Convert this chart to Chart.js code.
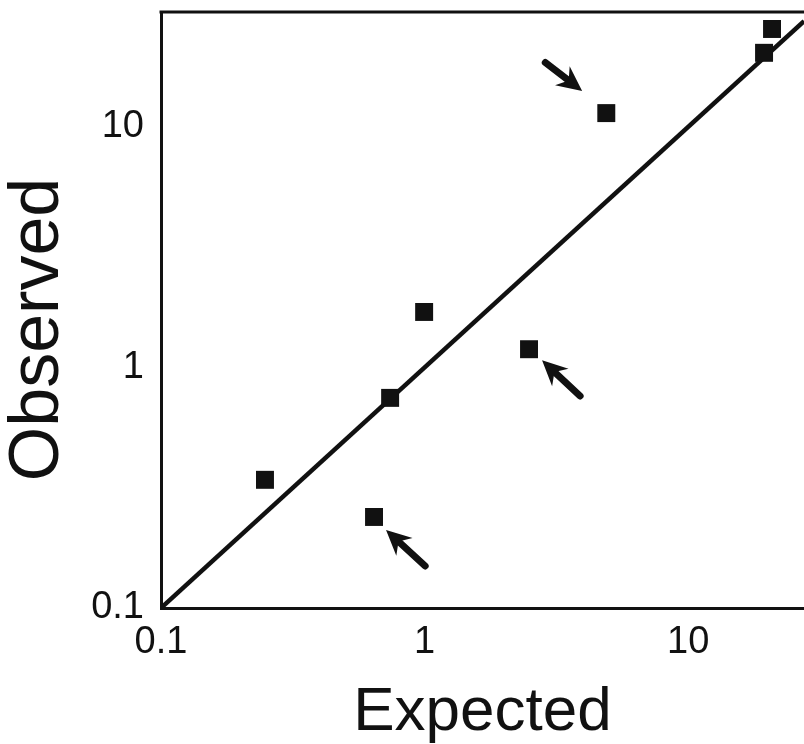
<!DOCTYPE html>
<html>
<head>
<meta charset="utf-8">
<script src="https://cdn.jsdelivr.net/npm/chart.js@4.4.1/dist/chart.umd.min.js"></script>
<style>
  html, body { margin: 0; padding: 0; background: #fff; }
  #wrap { width: 804px; height: 744px; }
</style>
</head>
<body>
<div id="wrap"><canvas id="c" width="804" height="744"></canvas></div>
<script>
// ---- data ----
const expectedVals = [0.248, 0.643, 0.740, 0.996, 2.49, 4.89, 19.4, 20.8];
const observedVals = [0.341, 0.239, 0.747, 1.70, 1.19, 11.4, 20.3, 25.5];
const xTicks = [0.1, 1, 10];
const yTicks = [0.1, 1, 10];
const xTickLabels = ['0.1', '1', '10'];
const yTickLabels = ['0.1', '1', '10'];
const xRange = [0.1, 27.5];
const yRange = [0.1, 30];
const identityLine = [0.1, 27.5];
// arrows in data units
const arrowTailX = [2.87, 3.89, 1.005];
const arrowTailY = [18.5, 0.761, 0.1495];
const arrowTipX = [3.96, 2.79, 0.714];
const arrowTipY = [14.1, 1.07, 0.211];

const INK = '#111';
const FONT = "'Liberation Sans', Arial, Helvetica, sans-serif";

const frameAndArrows = {
  id: 'frameAndArrows',
  afterDatasetsDraw(chart) {
    const { ctx, chartArea, scales } = chart;
    ctx.save();
    ctx.strokeStyle = INK;
    ctx.lineWidth = 3;
    ctx.beginPath();
    ctx.moveTo(chartArea.left - 1.5, chartArea.top);
    ctx.lineTo(chartArea.right, chartArea.top);
    ctx.stroke();
    ctx.fillStyle = INK;
    ctx.lineCap = 'round';
    for (let i = 0; i < arrowTipX.length; i++) {
      const x0 = scales.x.getPixelForValue(arrowTailX[i]);
      const y0 = scales.y.getPixelForValue(arrowTailY[i]);
      const x1 = scales.x.getPixelForValue(arrowTipX[i]);
      const y1 = scales.y.getPixelForValue(arrowTipY[i]);
      const ang = Math.atan2(y1 - y0, x1 - x0);
      const headLen = 25, headW = 12, notch = 17;
      const ux = Math.cos(ang), uy = Math.sin(ang);
      const px = -uy, py = ux;
      const bx = x1 - ux * headLen, by = y1 - uy * headLen;
      const nx = x1 - ux * notch, ny = y1 - uy * notch;
      ctx.lineWidth = 7;
      ctx.beginPath();
      ctx.moveTo(x0, y0);
      ctx.lineTo(nx, ny);
      ctx.stroke();
      ctx.beginPath();
      ctx.moveTo(x1, y1);
      ctx.lineTo(bx + px * headW, by + py * headW);
      ctx.lineTo(nx, ny);
      ctx.lineTo(bx - px * headW, by - py * headW);
      ctx.closePath();
      ctx.fill();
    }
    ctx.restore();
  }
};

new Chart(document.getElementById('c'), {
  data: {
    datasets: [
      {
        type: 'line',
        data: identityLine.map(v => ({ x: v, y: v })),
        borderColor: INK,
        borderWidth: 4.5,
        pointRadius: 0,
        fill: false,
        order: 2
      },
      {
        type: 'scatter',
        data: expectedVals.map((v, i) => ({ x: v, y: observedVals[i] })),
        pointStyle: 'rect',
        pointRadius: 12.7,
        pointHoverRadius: 12.7,
        backgroundColor: INK,
        borderColor: INK,
        borderWidth: 0,
        order: 1
      }
    ]
  },
  options: {
    responsive: false,
    animation: false,
    devicePixelRatio: 1,
    layout: { autoPadding: false, padding: { top: 12, left: 0, right: 0, bottom: 0 } },
    plugins: { legend: { display: false }, tooltip: { enabled: false } },
    scales: {
      x: {
        type: 'logarithmic',
        min: xRange[0],
        max: xRange[1],
        afterBuildTicks: s => { s.ticks = xTicks.map(v => ({ value: v })); },
        afterFit: s => { s.height = 136; s.paddingLeft = 0; s.paddingRight = 0; },
        ticks: {
          autoSkip: false,
          maxRotation: 0,
          padding: 12,
          color: INK,
          font: { family: FONT, size: 38 },
          callback: (v) => { const i = xTicks.indexOf(v); return i >= 0 ? xTickLabels[i] : ''; }
        },
        grid: { display: false, drawTicks: false },
        border: { display: true, color: INK, width: 3 },
        title: {
          display: true,
          text: 'Expected',
          color: INK,
          font: { family: FONT, size: 62, lineHeight: 1 },
          padding: { top: 0, bottom: 0 }
        }
      },
      y: {
        type: 'logarithmic',
        min: yRange[0],
        max: yRange[1],
        afterBuildTicks: s => { s.ticks = yTicks.map(v => ({ value: v })); },
        afterFit: s => { s.width = 161; s.paddingTop = 0; s.paddingBottom = 0; },
        ticks: {
          autoSkip: false,
          padding: 17,
          color: INK,
          font: { family: FONT, size: 38 },
          callback: (v) => { const i = yTicks.indexOf(v); return i >= 0 ? yTickLabels[i] : ''; }
        },
        grid: { display: false, drawTicks: false },
        border: { display: true, color: INK, width: 3 },
        title: {
          display: true,
          text: 'Observed  ',
          color: INK,
          font: { family: FONT, size: 70, lineHeight: 1 },
          padding: { top: 4, bottom: 0 }
        }
      }
    }
  },
  plugins: [frameAndArrows]
});
</script>
</body>
</html>
